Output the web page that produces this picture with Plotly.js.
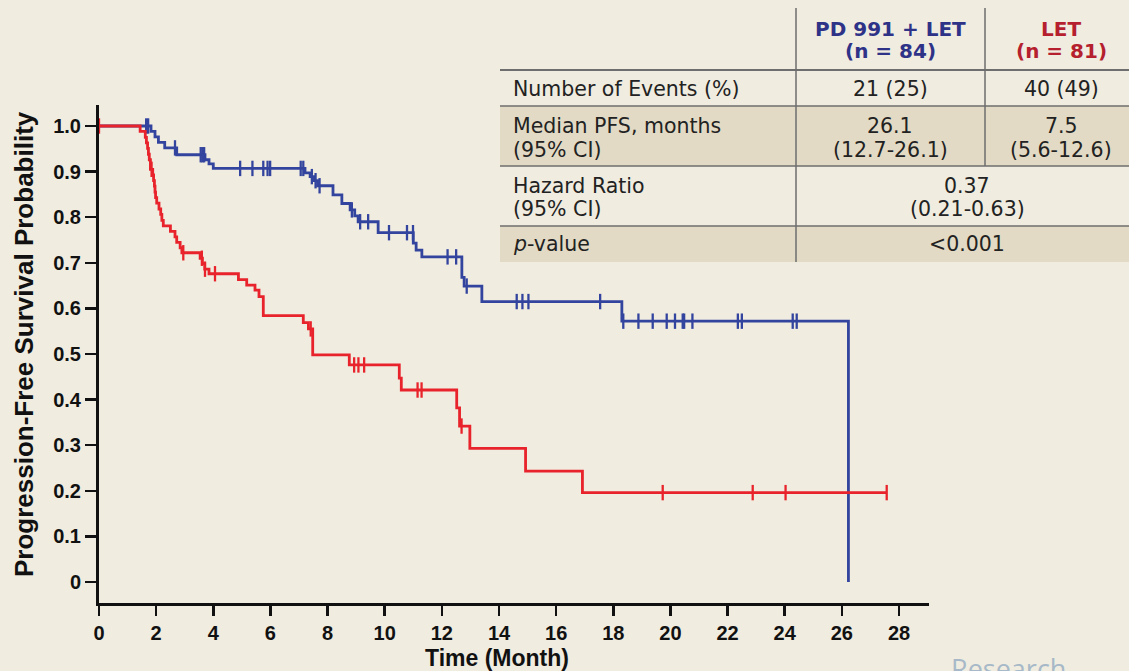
<!DOCTYPE html>
<html>
<head>
<meta charset="utf-8">
<script src="https://cdn.plot.ly/plotly-3.0.1.min.js"></script>
<style>
  html, body { margin: 0; padding: 0; background: #f0ece0; }
  #chart { width: 1129px; height: 671px; }
</style>
</head>
<body>
<div id="chart"></div>
<script>
// ---------- Data ----------
// PD 991 + LET arm: event times (months) and survival after each step
const pdTimes = [0, 1.82, 1.96, 2.08, 2.30, 2.72, 3.71, 3.85, 4.00, 7.21, 7.39, 7.52, 7.65, 8.19, 8.50, 8.79, 8.95, 9.07, 9.77, 11.00, 11.10, 11.30, 12.70, 12.78, 13.40, 18.30, 26.23];
const pdSurv  = [1.0, 0.988, 0.976, 0.964, 0.952, 0.937, 0.926, 0.917, 0.907, 0.897, 0.889, 0.880, 0.869, 0.849, 0.830, 0.816, 0.803, 0.790, 0.766, 0.743, 0.728, 0.713, 0.668, 0.649, 0.615, 0.572, 0.0];
const pdCensor = [1.65, 1.72, 2.66, 3.56, 3.62, 3.68, 4.94, 5.37, 5.75, 5.90, 5.99, 7.06, 7.15, 7.45, 7.58, 7.72, 8.85, 9.14, 9.42, 10.15, 10.78, 10.99, 12.20, 12.50, 12.87, 14.62, 14.82, 15.03, 17.54, 18.35, 18.88, 19.38, 19.87, 20.16, 20.43, 20.48, 20.77, 22.36, 22.50, 24.28, 24.42];

// LET arm
const letTimes = [0, 1.44, 1.62, 1.66, 1.70, 1.73, 1.76, 1.80, 1.88, 1.91, 1.94, 1.96, 1.98, 2.02, 2.10, 2.16, 2.20, 2.25, 2.50, 2.66, 2.72, 2.84, 2.90, 3.54, 3.62, 3.70, 3.85, 4.88, 5.17, 5.46, 5.60, 5.75, 7.15, 7.33, 7.48, 8.76, 10.51, 10.58, 12.52, 12.62, 12.98, 14.93, 16.92, 27.57];
const letSurv  = [1.0, 0.988, 0.975, 0.963, 0.951, 0.938, 0.926, 0.905, 0.893, 0.880, 0.868, 0.855, 0.843, 0.831, 0.818, 0.806, 0.793, 0.781, 0.769, 0.757, 0.745, 0.733, 0.722, 0.710, 0.698, 0.686, 0.676, 0.663, 0.651, 0.640, 0.626, 0.584, 0.569, 0.555, 0.498, 0.476, 0.447, 0.421, 0.382, 0.342, 0.293, 0.243, 0.196, 0.196];
const letCensor = [0, 1.84, 2.95, 3.60, 3.71, 4.06, 7.41, 8.93, 9.08, 9.28, 11.15, 11.29, 12.69, 19.73, 22.88, 24.03, 27.57];

// Axis ticks
const xTickVals = [0, 2, 4, 6, 8, 10, 12, 14, 16, 18, 20, 22, 24, 26, 28];
const yTickVals = [0, 0.1, 0.2, 0.3, 0.4, 0.5, 0.6, 0.7, 0.8, 0.9, 1.0];
const yTickText = ["0", "0.1", "0.2", "0.3", "0.4", "0.5", "0.6", "0.7", "0.8", "0.9", "1.0"];

// Table contents
const armNames  = ["PD 991 + LET", "LET"];
const armN      = ["(n = 84)", "(n = 81)"];
const rowLabels = [["Number of Events (%)"], ["Median PFS, months", "(95% CI)"], ["Hazard Ratio", "(95% CI)"], ["p-value"]];
const eventsVals = ["21 (25)", "40 (49)"];
const medianVals = [["26.1", "(12.7-26.1)"], ["7.5", "(5.6-12.6)"]];
const hazardVals = ["0.37", "(0.21-0.63)"];
const pValue = "<0.001";

// ---------- Styling ----------
const BG = "#f0ece0";
const SHADE = "#e2dac4";
const BLUE = "#33449e";
const RED = "#e8232b";
const HEAD_BLUE = "#2e3388";
const HEAD_RED = "#b51f2e";
const RULE = "#6e6e6e";

const W = 1129, H = 671;
const M = {l: 99, r: 200, t: 105, b: 68};
const PW = W - M.l - M.r, PH = H - M.t - M.b;
const X = px => (px - M.l) / PW;
const Y = py => (H - M.b - py) / PH;

function survAt(times, surv, t) {
  let s = surv[0];
  for (let i = 0; i < times.length; i++) if (times[i] <= t) s = surv[i];
  return s;
}

const traces = [
  {x: pdTimes, y: pdSurv, mode: "lines", line: {shape: "hv", color: BLUE, width: 2.8}, hoverinfo: "skip"},
  {x: pdCensor, y: pdCensor.map(t => survAt(pdTimes, pdSurv, t)), mode: "markers",
   marker: {symbol: "line-ns", size: 11, color: BLUE, line: {width: 2.3, color: BLUE}}, cliponaxis: false, hoverinfo: "skip"},
  {x: letTimes, y: letSurv, mode: "lines", line: {shape: "hv", color: RED, width: 2.8}, hoverinfo: "skip"},
  {x: letCensor, y: letCensor.map(t => survAt(letTimes, letSurv, t)), mode: "markers",
   marker: {symbol: "line-ns", size: 11, color: RED, line: {width: 2.3, color: RED}}, cliponaxis: false, hoverinfo: "skip"}
];

const TF = "DejaVu Sans, Verdana, sans-serif";
const TS = 20.5;
const ann = [];
function txt(text, px, py, opts) {
  ann.push(Object.assign({
    text: text, x: X(px), y: Y(py), xref: "paper", yref: "paper",
    showarrow: false, xanchor: "center", yanchor: "middle",
    font: {family: TF, size: TS, color: "#222"}
  }, opts || {}));
}
const C2 = 890, C3 = 1061, C23 = 967, LX = 511;
// header
txt(armNames[0], C2, 29, {font: {family: TF, size: 20, color: HEAD_BLUE, weight: "bold"}});
txt(armN[0], C2, 51, {font: {family: TF, size: 20, color: HEAD_BLUE, weight: "bold"}});
txt(armNames[1], C3, 29, {font: {family: TF, size: 20, color: HEAD_RED, weight: "bold"}});
txt(armN[1], C3, 51, {font: {family: TF, size: 20, color: HEAD_RED, weight: "bold"}});
// row labels
txt(rowLabels[0][0], LX, 89, {xanchor: "left"});
txt(rowLabels[1][0], LX, 126, {xanchor: "left"});
txt(rowLabels[1][1], LX, 150, {xanchor: "left"});
txt(rowLabels[2][0], LX, 186, {xanchor: "left"});
txt(rowLabels[2][1], LX, 209, {xanchor: "left"});
txt("<i>p</i>" + rowLabels[3][0].slice(1), LX, 244, {xanchor: "left"});
// values
txt(eventsVals[0], C2, 89);
txt(eventsVals[1], C3, 89);
txt(medianVals[0][0], C2, 126);
txt(medianVals[0][1], C2, 150);
txt(medianVals[1][0], C3, 126);
txt(medianVals[1][1], C3, 150);
txt(hazardVals[0], C23, 186);
txt(hazardVals[1], C23, 209);
txt(pValue.replace("<", "&lt;"), C23, 244);

// axis titles
const AF = "Liberation Sans, Arial, sans-serif";
ann.push({text: "Time (Month)", x: X(497), y: Y(658), xref: "paper", yref: "paper", showarrow: false,
  xanchor: "center", yanchor: "middle", font: {family: AF, size: 23, color: "#111", weight: "bold"}});
ann.push({text: "Progression-Free Survival Probability", x: X(24), y: Y(344), xref: "paper", yref: "paper",
  showarrow: false, textangle: -90, xanchor: "center", yanchor: "middle",
  font: {family: AF, size: 26, color: "#111", weight: "bold"}});
// watermark (cut by the bottom edge, as in the reference)
ann.push({text: "Research", x: X(1008), y: Y(668), xref: "paper", yref: "paper", showarrow: false,
  xanchor: "center", yanchor: "middle", font: {family: "Open Sans, sans-serif", size: 27, color: "#a7b9c8"}});

const shapes = [
  {type: "rect", xref: "paper", yref: "paper", x0: X(500), x1: X(1129), y0: Y(106), y1: Y(166), fillcolor: SHADE, line: {width: 0}, layer: "above"},
  {type: "rect", xref: "paper", yref: "paper", x0: X(500), x1: X(1129), y0: Y(226), y1: Y(262), fillcolor: SHADE, line: {width: 0}, layer: "above"},
  {type: "line", xref: "paper", yref: "paper", x0: X(500), x1: X(1129), y0: Y(70), y1: Y(70), line: {color: RULE, width: 2}},
  {type: "line", xref: "paper", yref: "paper", x0: X(500), x1: X(1129), y0: Y(106), y1: Y(106), line: {color: RULE, width: 1.5}},
  {type: "line", xref: "paper", yref: "paper", x0: X(500), x1: X(1129), y0: Y(166), y1: Y(166), line: {color: RULE, width: 1.5}},
  {type: "line", xref: "paper", yref: "paper", x0: X(500), x1: X(1129), y0: Y(226), y1: Y(226), line: {color: RULE, width: 1.5}},
  {type: "line", xref: "paper", yref: "paper", x0: X(796), x1: X(796), y0: Y(8), y1: Y(262), line: {color: RULE, width: 1.5}},
  {type: "line", xref: "paper", yref: "paper", x0: X(985), x1: X(985), y0: Y(8), y1: Y(166), line: {color: RULE, width: 1.5}}
];

const layout = {
  width: W, height: H,
  margin: M,
  paper_bgcolor: BG, plot_bgcolor: BG,
  showlegend: false,
  xaxis: {
    range: [0, PW / (800 / 28)], tickvals: xTickVals, ticktext: xTickVals.map(String),
    ticks: "outside", ticklen: 10, tickwidth: 2.5, tickcolor: "#111",
    showline: true, linewidth: 3, linecolor: "#111", showgrid: false, zeroline: false,
    tickfont: {family: AF, size: 20, color: "#111", weight: "bold"}, fixedrange: true
  },
  yaxis: {
    range: [-(603 - 582) / 456, (582 - M.t) / 456], tickvals: yTickVals, ticktext: yTickText,
    ticks: "outside", ticklen: 11, tickwidth: 2.5, tickcolor: "#111",
    showline: true, linewidth: 3, linecolor: "#111", showgrid: false, zeroline: false,
    tickfont: {family: AF, size: 20, color: "#111", weight: "bold"}, fixedrange: true
  },
  shapes: shapes,
  annotations: ann
};

Plotly.newPlot("chart", traces, layout, {displayModeBar: false, staticPlot: true});
</script>
</body>
</html>
